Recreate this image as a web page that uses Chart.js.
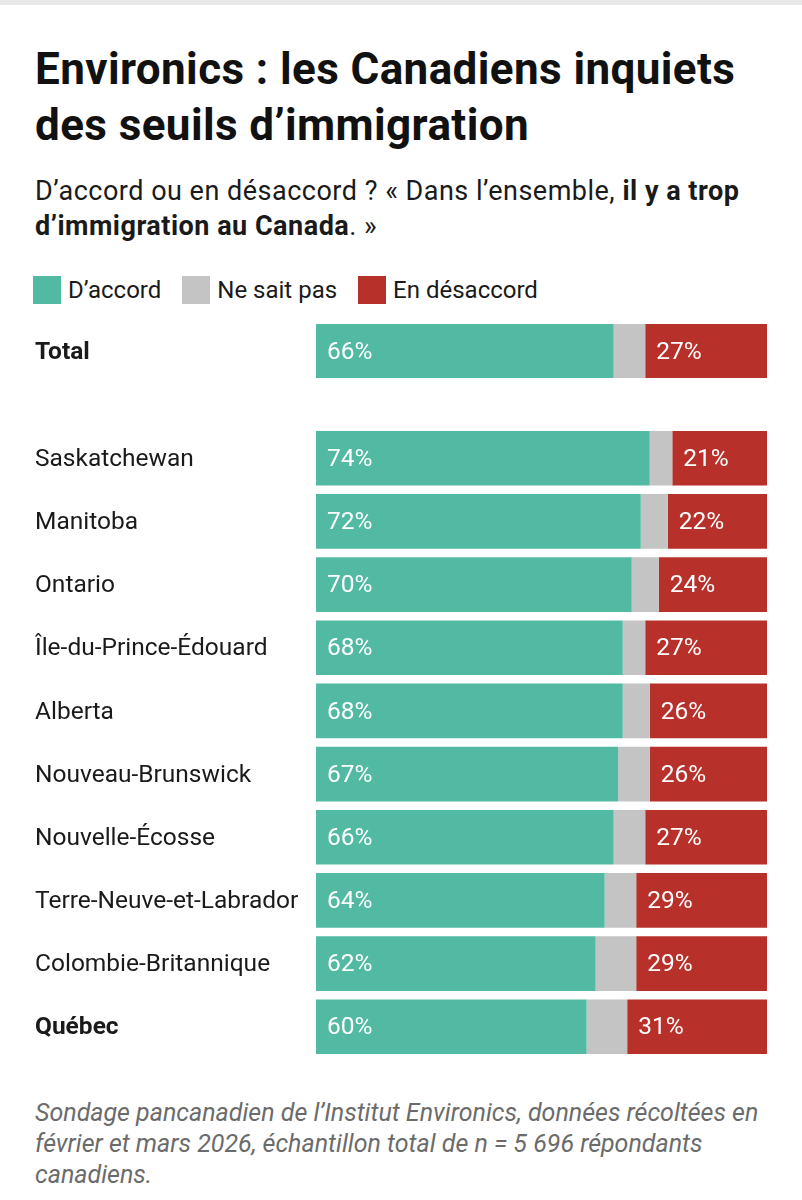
<!DOCTYPE html>
<html lang="fr">
<head>
<meta charset="utf-8">
<script src="https://cdn.jsdelivr.net/npm/chart.js@4.4.1/dist/chart.umd.min.js"></script>
<style>
  html, body { margin: 0; padding: 0; background: #fff; }
  body { width: 802px; height: 1200px; position: relative; overflow: hidden; font-family: Roboto, "Noto Sans", sans-serif; color: #1a1a1a; }
  .topbar { position: absolute; left: 0; top: 0; width: 802px; height: 5px; background: #e8e8e8; }
  .title { position: absolute; left: 35px; top: 41px; width: 767px; white-space: nowrap; font-size: 44px; line-height: 56px; font-weight: 700; color: #111; letter-spacing: 0.4px; }
  .subtitle { position: absolute; left: 35px; top: 174px; width: 767px; white-space: nowrap; font-size: 27px; line-height: 35px; color: #1a1a1a; letter-spacing: 0.5px; }
  .subtitle b { font-weight: 700; }
  .legend { position: absolute; left: 33px; top: 272px; height: 36px; display: flex; align-items: center; font-size: 24px; color: #1a1a1a; }
  .legend .sw { width: 28px; height: 28px; display: inline-block; margin-right: 7px; }
  .legend .it { display: flex; align-items: center; margin-right: 21px; }
  .c1 { position: absolute; left: 0; top: 305px; width: 802px; height: 92px; }
  .c2 { position: absolute; left: 0; top: 412px; width: 802px; height: 661px; }
  .footer { position: absolute; left: 35px; top: 1097px; width: 735px; font-size: 25px; line-height: 31px; font-style: italic; color: #6b6b6b; }
</style>
</head>
<body>
<div class="topbar"></div>
<div class="title">Environics : les Canadiens inquiets<br>des seuils d’immigration</div>
<div class="subtitle">D’accord ou en désaccord ? « Dans l’ensemble, <b>il y a trop<br>d’immigration au Canada</b>. »</div>
<div class="legend" id="legend"></div>
<div class="c1"><canvas id="chartTotal"></canvas></div>
<div class="c2"><canvas id="chartProv"></canvas></div>
<div class="footer">Sondage pancanadien de l’Institut Environics, données récoltées en février et mars 2026, échantillon total de n = 5 696 répondants canadiens.</div>
<script>
// ---- Data ----
const seriesNames = ["D’accord", "Ne sait pas", "En désaccord"];
const seriesColors = ["#52b9a2", "#c4c4c4", "#b8302a"];

const totalCategories = ["Total"];
const totalAccord = [66];
const totalNeSaitPas = [7];
const totalDesaccord = [27];

const provCategories = ["Saskatchewan", "Manitoba", "Ontario", "Île-du-Prince-Édouard", "Alberta", "Nouveau-Brunswick", "Nouvelle-Écosse", "Terre-Neuve-et-Labrador", "Colombie-Britannique", "Québec"];
const provAccord =     [74, 72, 70, 68, 68, 67, 66, 64, 62, 60];
const provNeSaitPas =  [ 5,  6,  6,  5,  6,  7,  7,  7,  9,  9];
const provDesaccord =  [21, 22, 24, 27, 26, 26, 27, 29, 29, 31];

const boldCategories = ["Total", "Québec"];

// ---- Legend ----
const legendEl = document.getElementById('legend');
seriesNames.forEach((n, i) => {
  const it = document.createElement('span');
  it.className = 'it';
  it.innerHTML = '<span class="sw" style="background:' + seriesColors[i] + '"></span>' + n;
  legendEl.appendChild(it);
});

// ---- Value label plugin ----
const valueLabels = {
  id: 'valueLabels',
  afterDatasetsDraw(chart) {
    const ctx = chart.ctx;
    ctx.save();
    ctx.font = '400 24.5px Roboto, "Noto Sans", sans-serif';
    ctx.fillStyle = '#ffffff';
    ctx.textAlign = 'left';
    ctx.textBaseline = 'middle';
    chart.data.datasets.forEach((ds, di) => {
      if (di === 1) return;
      const meta = chart.getDatasetMeta(di);
      meta.data.forEach((el, i) => {
        const left = Math.min(el.base, el.x);
        ctx.fillText(ds.data[i] + '%', left + 11, el.y + 1.5);
      });
    });
    ctx.restore();
  }
};

function makeChart(id, cats, a, n, d) {
  return new Chart(document.getElementById(id), {
    type: 'bar',
    data: {
      labels: cats,
      datasets: [
        { label: seriesNames[0], data: a, backgroundColor: seriesColors[0] },
        { label: seriesNames[1], data: n, backgroundColor: seriesColors[1] },
        { label: seriesNames[2], data: d, backgroundColor: seriesColors[2] }
      ]
    },
    options: {
      indexAxis: 'y',
      responsive: true,
      maintainAspectRatio: false,
      animation: false,
      devicePixelRatio: 1,
      layout: { padding: { left: 35, right: 35, top: 0, bottom: 0 } },
      datasets: { bar: { barPercentage: 0.865, categoryPercentage: 1.0, borderWidth: 0 } },
      plugins: { legend: { display: false }, tooltip: { enabled: false } },
      scales: {
        x: { stacked: true, min: 0, max: 100, display: false },
        y: {
          stacked: true,
          grid: { display: false },
          border: { display: false },
          afterFit(axis) { axis.width = 281; },
          ticks: {
            crossAlign: 'far',
            padding: 0,
            labelOffset: 1.5,
            color: '#1a1a1a',
            font: (c) => ({
              family: 'Roboto, "Noto Sans", sans-serif',
              size: 24.5,
              lineHeight: 1.2,
              weight: (c.tick && boldCategories.includes(c.tick.label)) ? 'bold' : 'normal'
            })
          }
        }
      }
    },
    plugins: [valueLabels]
  });
}

makeChart('chartTotal', totalCategories, totalAccord, totalNeSaitPas, totalDesaccord);
makeChart('chartProv', provCategories, provAccord, provNeSaitPas, provDesaccord);
</script>
</body>
</html>
